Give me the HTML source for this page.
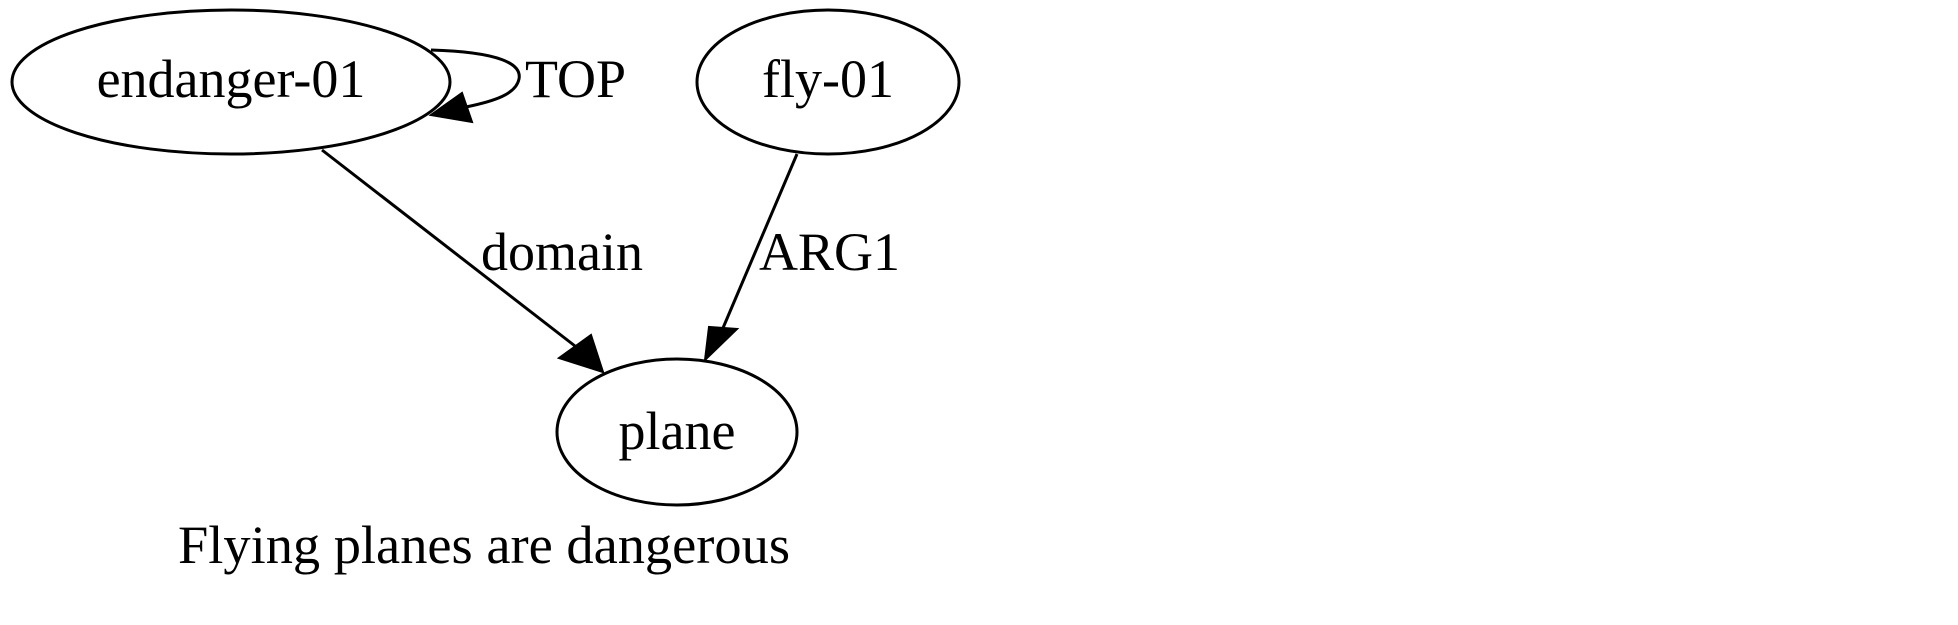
<!DOCTYPE html>
<html><head><style>
html,body{margin:0;padding:0;background:#fff;}
svg{display:block;}
text{font-family:"Liberation Serif",serif;font-size:54px;fill:#000;}
</style></head><body>
<svg width="1958" height="625" viewBox="0 0 1958 625" xmlns="http://www.w3.org/2000/svg">
<g fill="none" stroke="#000" stroke-width="3">
<ellipse cx="231" cy="82" rx="219" ry="72"/>
<ellipse cx="828" cy="82" rx="131" ry="72"/>
<ellipse cx="677" cy="432" rx="120" ry="73"/>
<path d="M431,50 C500,52 522,64 519,79 C516,94 495,101 466,107"/>
<path d="M322,150 L575,346"/>
<path d="M797,154 L723,328"/>
</g>
<g fill="#000" stroke="#000" stroke-width="2">
<polygon points="431,115 462,93 472,122"/>
<polygon points="603,372 559,358 591,335"/>
<polygon points="705,360 709,327 737,329"/>
</g>
<text x="231" y="97" text-anchor="middle">endanger-01</text>
<text x="828" y="97" text-anchor="middle">fly-01</text>
<text x="677" y="449" text-anchor="middle">plane</text>
<text x="525" y="97">TOP</text>
<text x="481" y="270">domain</text>
<text x="759" y="270">ARG1</text>
<text x="484" y="563" text-anchor="middle" textLength="612" lengthAdjust="spacingAndGlyphs">Flying planes are dangerous</text>
</svg>
</body></html>
